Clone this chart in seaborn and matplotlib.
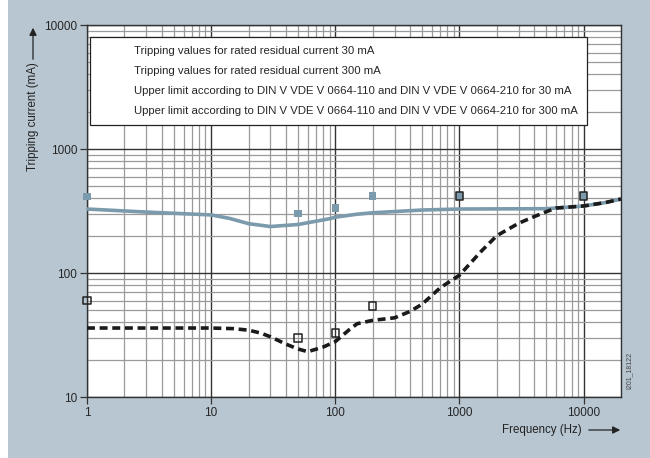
import matplotlib
matplotlib.use("Agg")
import matplotlib.pyplot as plt
from matplotlib.lines import Line2D
from matplotlib.patches import Rectangle, FancyArrowPatch
from matplotlib.ticker import LogLocator, NullFormatter, FixedLocator
import seaborn as sns
import pandas as pd

# Tripping values (markers)
trip_freq = [1, 50, 100, 200, 1000, 10000]
trip_30 = [60, 30, 33, 54, 420, 420]
trip_300 = [415, 302, 334, 420, 420, 420]

# Upper limit curves
limit300_freq = [1, 3, 10, 14, 20, 30, 50, 90, 100, 150, 200, 500, 1000, 5000, 7000, 10000, 15000, 20000]
limit300_val = [328, 310, 294, 276, 250, 237, 246, 274, 282, 298, 306, 322, 328, 330, 338, 347, 370, 395]

limit30_freq = [1, 10, 15, 20, 25, 30, 40, 50, 60, 80, 100, 130, 150, 200, 300, 400, 500, 700, 1000,
                1500, 2000, 3000, 4000, 5000, 6000, 10000, 15000, 20000]
limit30_val = [36, 36, 35.6, 34.6, 32.8, 30.6, 26.7, 24.4, 23.2, 25.3, 28, 35, 39, 41.5, 43.5, 49, 56, 76, 96,
               150, 200, 252, 285, 312, 334, 347, 370, 395]

legend_labels = [
    "Tripping values for rated residual current 30 mA",
    "Tripping values for rated residual current 300 mA",
    "Upper limit according to DIN V VDE V 0664-110 and DIN V VDE V 0664-210 for 30 mA",
    "Upper limit according to DIN V VDE V 0664-110 and DIN V VDE V 0664-210 for 300 mA",
]

bg = "#b8c6d1"
blue = "#7b9aab"

sns.set_theme(style="white")
plt.rcParams["font.family"] = ["Liberation Sans", "DejaVu Sans"]

fig = plt.figure(figsize=(6.5, 4.58), dpi=100, facecolor="white")
fig.patches.append(Rectangle((8 / 650, 0), 1 - 8 / 650, 1, transform=fig.transFigure,
                             facecolor=bg, edgecolor="none", zorder=-10))
ax = fig.add_axes([87 / 650, 1 - 397 / 458, (621 - 87) / 650, (397 - 25) / 458])
ax.set_facecolor("white")

df300 = pd.DataFrame({"f": limit300_freq, "v": limit300_val})
df30 = pd.DataFrame({"f": limit30_freq, "v": limit30_val})
sns.lineplot(data=df300, x="f", y="v", ax=ax, color=blue, linewidth=2.6, zorder=4)
sns.lineplot(data=df30, x="f", y="v", ax=ax, color="#1a1a1a", linewidth=2.6,
             linestyle=(0, (2.2, 1.3)), zorder=5)

dft = pd.DataFrame({"f": trip_freq, "v30": trip_30, "v300": trip_300})
sns.scatterplot(data=dft, x="f", y="v300", ax=ax, marker="s", s=30, color=blue,
                edgecolor="none", linewidth=0, zorder=6, clip_on=False)
sns.scatterplot(data=dft, x="f", y="v30", ax=ax, marker="s", s=30, facecolor="none",
                edgecolor="#222222", linewidth=1.1, zorder=7, clip_on=False)

ax.set_xscale("log")
ax.set_yscale("log")
ax.set_xlim(1, 20000)
ax.set_ylim(10, 10000)

ax.xaxis.set_major_locator(FixedLocator([1, 10, 100, 1000, 10000]))
ax.yaxis.set_major_locator(FixedLocator([10, 100, 1000, 10000]))
ax.set_xticklabels(["1", "10", "100", "1000", "10000"])
ax.set_yticklabels(["10", "100", "1000", "10000"])
ax.xaxis.set_minor_locator(LogLocator(base=10, subs=range(2, 10), numticks=20))
ax.yaxis.set_minor_locator(LogLocator(base=10, subs=range(2, 10), numticks=20))
ax.xaxis.set_minor_formatter(NullFormatter())
ax.yaxis.set_minor_formatter(NullFormatter())

ax.grid(which="major", color="#333333", linewidth=1.0)
ax.grid(which="minor", color="#9a9a9a", linewidth=0.9)
ax.tick_params(which="major", direction="out", length=5, width=0.9, color="#333333",
               labelsize=8.5, pad=2, bottom=True, left=True)
ax.tick_params(which="minor", length=0)
for s in ax.spines.values():
    s.set_color("#333333")
    s.set_linewidth(1.0)

ax.set_xlabel("")
ax.set_ylabel("")

# legend with blank handles
handles = [Line2D([], [], color="none") for _ in legend_labels]
leg = ax.legend(handles, legend_labels, loc="upper left", bbox_to_anchor=(3 / 534, 1 - 12 / 372),
                borderaxespad=0, fontsize=8.2, frameon=True, fancybox=False, handlelength=2.6,
                labelspacing=0.88, borderpad=0.8, handletextpad=0.5)
leg.get_frame().set_edgecolor("#222222")
leg.get_frame().set_linewidth(0.9)
leg.get_frame().set_alpha(1)
leg.set_zorder(10)

# axis titles with arrows
fig.text(33 / 650, 1 - 117 / 458, "Tripping current (mA)", rotation=90, ha="center", va="center",
         fontsize=8.3, color="#222222")
fig.add_artist(FancyArrowPatch((33 / 650, 1 - 62 / 458), (33 / 650, 1 - 25 / 458),
               transform=fig.transFigure, arrowstyle="-|>", mutation_scale=11, color="#222222", lw=0.9))
fig.text(542 / 650, 1 - 430 / 458, "Frequency (Hz)", ha="center", va="center",
         fontsize=8.3, color="#222222")
fig.add_artist(FancyArrowPatch((586 / 650, 1 - 430 / 458), (623 / 650, 1 - 430 / 458),
               transform=fig.transFigure, arrowstyle="-|>", mutation_scale=11, color="#222222", lw=0.9))
fig.text(629 / 650, 1 - 370 / 458, "I201_18122", rotation=90, ha="center", va="center",
         fontsize=5, color="#444444")

fig.savefig("out.png", dpi=100, facecolor=fig.get_facecolor())
